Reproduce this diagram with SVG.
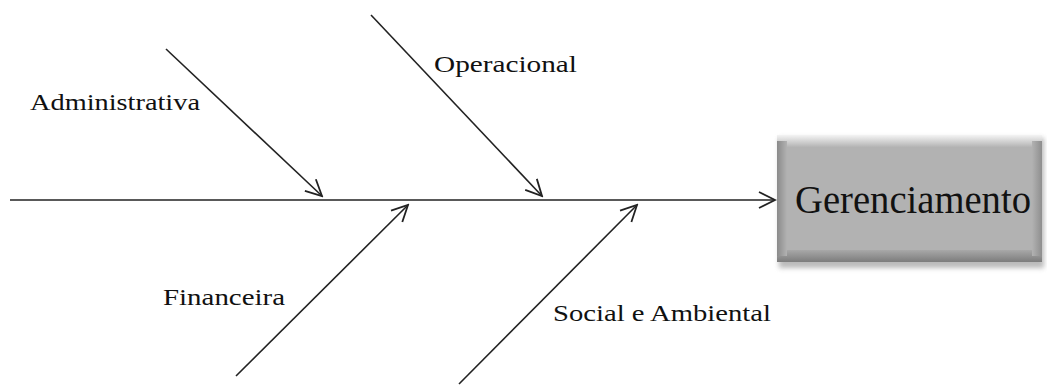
<svg xmlns="http://www.w3.org/2000/svg" width="1047" height="385" viewBox="0 0 1047 385">
<style>
.ln{stroke:#222;stroke-width:1.6;fill:none}
.lbl{font-family:"Liberation Serif","DejaVu Serif",serif;font-size:23px;fill:#111}
.big{font-family:"Liberation Serif","DejaVu Serif",serif;font-size:40px;fill:#111}
</style>
<defs>
<marker id="ah" viewBox="0 0 20 20" refX="18" refY="10" markerWidth="20" markerHeight="20" markerUnits="userSpaceOnUse" orient="auto">
<path d="M2,2 L18,10 L2,18" fill="none" stroke="#222" stroke-width="1.8"/>
</marker>
<linearGradient id="gTop" x1="0" y1="0" x2="0" y2="1">
<stop offset="0" stop-color="#f4f4f4"/><stop offset="1" stop-color="#b4b4b4"/>
</linearGradient>
<linearGradient id="gBot" x1="0" y1="0" x2="0" y2="1">
<stop offset="0" stop-color="#a8a8a8"/><stop offset="1" stop-color="#7c7c7c"/>
</linearGradient>
<linearGradient id="gLeft" x1="0" y1="0" x2="1" y2="0">
<stop offset="0" stop-color="#8a8a8a"/><stop offset="1" stop-color="#b2b2b2"/>
</linearGradient>
<linearGradient id="gRight" x1="0" y1="0" x2="1" y2="0">
<stop offset="0" stop-color="#b2b2b2"/><stop offset="1" stop-color="#8e8e8e"/>
</linearGradient>
<filter id="sh" x="-10%" y="-10%" width="120%" height="130%">
<feGaussianBlur stdDeviation="2.5"/>
</filter>
</defs>
<rect width="1047" height="385" fill="#fff"/>
<g id="connectors">
<line class="ln" x1="10" y1="200" x2="775" y2="200" marker-end="url(#ah)"/>
<line class="ln" x1="166" y1="49" x2="322" y2="196" marker-end="url(#ah)"/>
<line class="ln" x1="371" y1="15" x2="542" y2="196" marker-end="url(#ah)"/>
<line class="ln" x1="236" y1="376" x2="408" y2="205" marker-end="url(#ah)"/>
<line class="ln" x1="459" y1="384" x2="637" y2="205" marker-end="url(#ah)"/>
</g>
<g id="node-administrativa"><text class="lbl" x="30" y="110" textLength="170" lengthAdjust="spacingAndGlyphs">Administrativa</text></g>
<g id="node-operacional"><text class="lbl" x="434" y="72" textLength="143" lengthAdjust="spacingAndGlyphs">Operacional</text></g>
<g id="node-financeira"><text class="lbl" x="163" y="305" textLength="122" lengthAdjust="spacingAndGlyphs">Financeira</text></g>
<g id="node-social"><text class="lbl" x="553" y="321" textLength="218" lengthAdjust="spacingAndGlyphs">Social e Ambiental</text></g>
<g id="node-gerenciamento">
<rect x="779" y="138" width="265" height="130" fill="#777" opacity="0.5" filter="url(#sh)"/>
<rect x="777" y="135" width="265" height="127" fill="#b2b2b2"/>
<rect x="777" y="135" width="265" height="12" fill="url(#gTop)"/>
<rect x="777" y="250" width="265" height="12" fill="url(#gBot)"/>
<rect x="777" y="141" width="10" height="115" fill="url(#gLeft)"/>
<rect x="1032" y="141" width="10" height="115" fill="url(#gRight)"/>
<text class="big" x="795" y="213" textLength="236" lengthAdjust="spacingAndGlyphs">Gerenciamento</text>
</g>
</svg>
